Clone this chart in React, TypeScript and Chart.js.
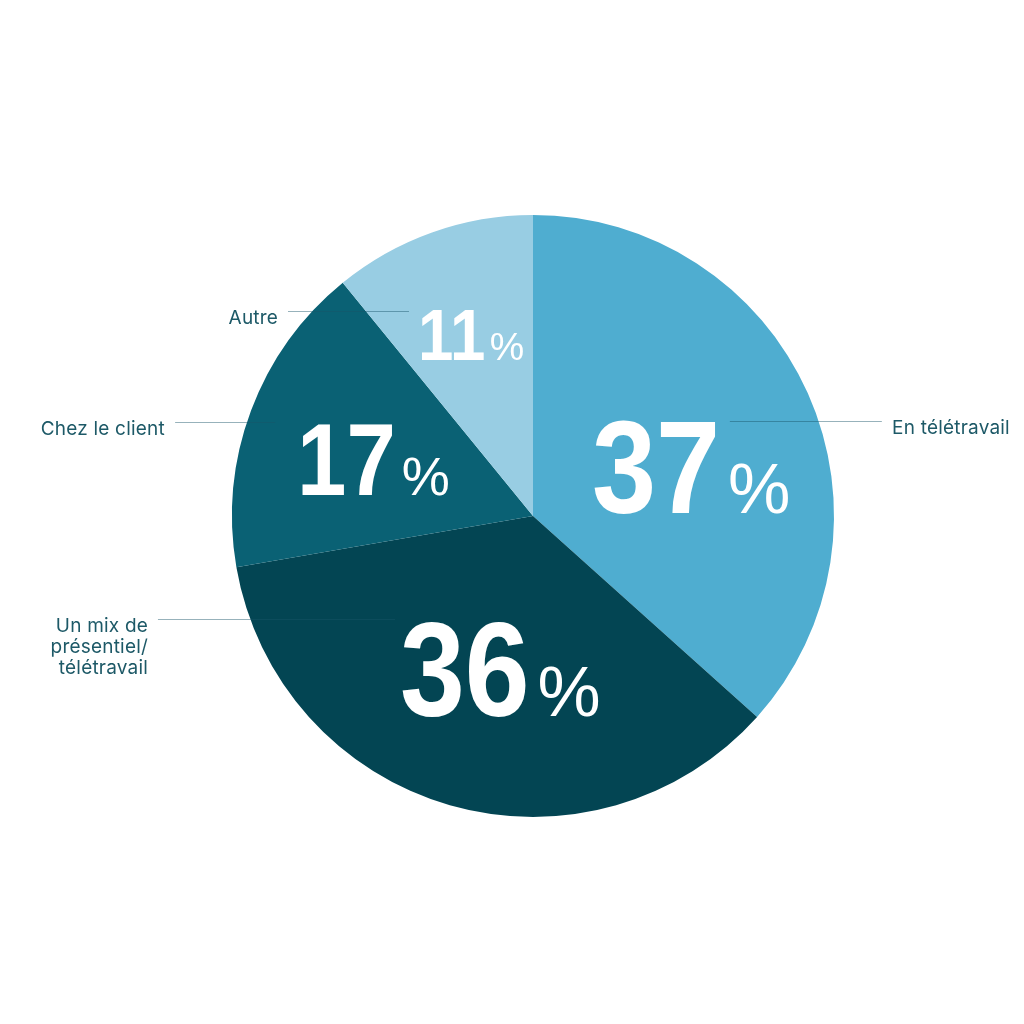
import React, { useEffect, useRef } from "react";
import { Chart, registerables } from "chart.js";

Chart.register(...registerables);

const categories = ["En télétravail", "Un mix de présentiel/ télétravail", "Chez le client", "Autre"];
const labelLines = [["En télétravail"], ["Un mix de", "présentiel/", "télétravail"], ["Chez le client"], ["Autre"]];
const values = [37, 36, 17, 11];
const colors = ["#4fadd0", "#034553", "#0a6174", "#98cde3"];

// layout of in-slice numbers and leader lines, in units of pie radius relative to centre
const numLayout = [
  { x: 0.196, y: -0.01, size: 0.44 },
  { x: -0.442, y: 0.664, size: 0.445 },
  { x: -0.784, y: -0.07, size: 0.339 },
  { x: -0.382, y: -0.518, size: 0.243 },
];
const leaderLayout = [
  { y: -0.316, x1: 0.654, x2: 1.159, tx: 1.193, side: "left" },
  { y: 0.342, x1: -0.458, x2: -1.246, tx: -1.279, side: "right" },
  { y: -0.312, x1: -0.857, x2: -1.189, tx: -1.223, side: "right" },
  { y: -0.681, x1: -0.412, x2: -0.814, tx: -0.847, side: "right" },
];
const NUM_SQUEEZE = 0.87;

const labelPlugin = {
  id: "pieLabels",
  afterDatasetsDraw(chart: any) {
    const ctx = chart.ctx;
    const meta = chart.getDatasetMeta(0);
    const arc0 = meta.data[0];
    const cx = arc0.x;
    const cy = arc0.y;
    const r = arc0.outerRadius;
    ctx.save();
    meta.data.forEach((_arc: any, i: number) => {
      // leader lines
      const L = leaderLayout[i];
      const ly = Math.round(cy + L.y * r) + 0.5;
      ctx.strokeStyle = "rgba(25,85,105,0.45)";
      ctx.lineWidth = 1;
      ctx.beginPath();
      ctx.moveTo(cx + L.x1 * r, ly);
      ctx.lineTo(cx + L.x2 * r, ly);
      ctx.stroke();
      ctx.fillStyle = "#1d5967";
      ctx.font = "19px Inter, 'Noto Sans', sans-serif";
      (ctx as any).letterSpacing = "0.2px";
      ctx.textAlign = L.side as CanvasTextAlign;
      ctx.textBaseline = "alphabetic";
      labelLines[i].forEach((t, k) => {
        ctx.fillText(t, cx + L.tx * r, ly + 12 + k * 21);
      });
      (ctx as any).letterSpacing = "0px";
      // numbers
      const N = numLayout[i];
      const fs = N.size * r;
      const nx = cx + N.x * r;
      const ny = cy + N.y * r;
      ctx.fillStyle = "#ffffff";
      ctx.textAlign = "left";
      ctx.font = `bold ${fs}px 'Liberation Sans', Arial, sans-serif`;
      const txt = String(values[i]);
      const w = ctx.measureText(txt).width * NUM_SQUEEZE;
      ctx.save();
      ctx.translate(nx, ny);
      ctx.scale(NUM_SQUEEZE, 1);
      ctx.fillText(txt, 0, 0);
      ctx.restore();
      ctx.font = `${fs * 0.53}px 'Liberation Sans', Arial, sans-serif`;
      ctx.fillText("%", nx + w + fs * 0.06, ny);
    });
    ctx.restore();
  },
};

export default function App() {
  const ref = useRef<HTMLCanvasElement>(null);
  useEffect(() => {
    if (!ref.current) return;
    const chart = new Chart(ref.current, {
      type: "pie",
      data: {
        labels: categories,
        datasets: [
          {
            data: values,
            backgroundColor: colors,
            borderWidth: 0,
          },
        ],
      },
      options: {
        responsive: false,
        animation: false,
        layout: { padding: { left: 232, right: 190, top: 215, bottom: 207 } },
        plugins: { legend: { display: false }, tooltip: { enabled: false } },
      },
      plugins: [labelPlugin],
    });
    return () => chart.destroy();
  }, []);
  return (
    <div style={{ position: "fixed", left: 0, top: 0, width: 1024, height: 1024, background: "#fff" }}>
      <canvas ref={ref} width={1024} height={1024} style={{ width: 1024, height: 1024 }} />
    </div>
  );
}
